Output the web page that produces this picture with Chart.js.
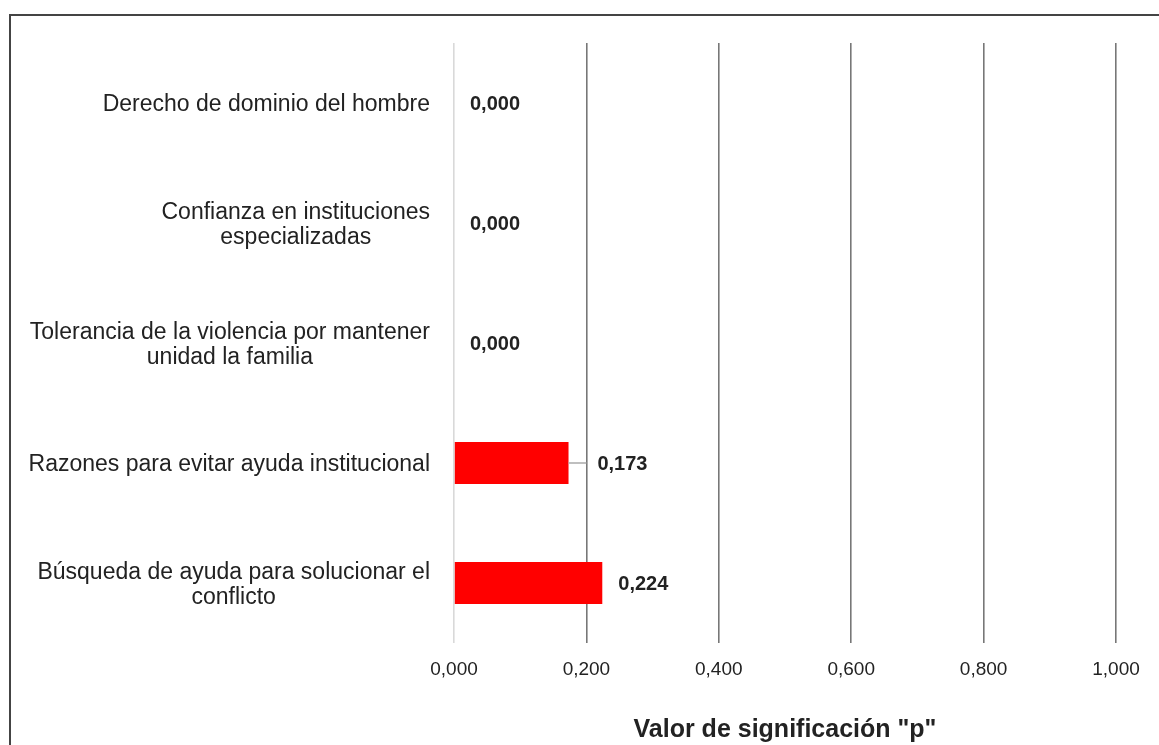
<!DOCTYPE html>
<html>
<head>
<meta charset="utf-8">
<script src="https://cdn.jsdelivr.net/npm/chart.js@4.4.1/dist/chart.umd.min.js"></script>
<style>
    html, body { margin: 0; padding: 0; background: #fff; }
    #wrap { position: relative; width: 1159px; height: 745px; }
    #frame {
        position: absolute; left: 9px; top: 14px; right: 0; bottom: 0;
        border-top: 2px solid #444; border-left: 2px solid #444;
        pointer-events: none;
    }
</style>
</head>
<body>
<div id="wrap">
    <canvas id="myChart" width="1159" height="745"></canvas>
    <div id="frame"></div>
</div>
<script>
// data
const categories = [
    ['Derecho de dominio del hombre'],
    ['Confianza en instituciones', 'especializadas'],
    ['Tolerancia de la violencia por mantener', 'unidad la familia'],
    ['Razones para evitar ayuda institucional'],
    ['Búsqueda de ayuda para solucionar el', 'conflicto']
];
const pValues = [0.000, 0.000, 0.000, 0.173, 0.224];
const xTicks = [0, 0.2, 0.4, 0.6, 0.8, 1.0];

const fmt = v => v.toFixed(3).replace('.', ',');
const FONT = "'Liberation Sans', Arial, sans-serif";

// category labels: block right aligned, each line centred inside the block
const categoryLabels = {
    id: 'categoryLabels',
    afterDraw(chart) {
        const ctx = chart.ctx;
        const yScale = chart.scales.y;
        const rightEdge = chart.chartArea.left - 24;
        const lineH = 25;
        ctx.save();
        ctx.font = '23px ' + FONT;
        ctx.fillStyle = '#222';
        ctx.textBaseline = 'middle';
        ctx.textAlign = 'center';
        categories.forEach((lines, i) => {
            const yc = yScale.getPixelForValue(i) + 2;
            const blockW = Math.max(...lines.map(l => ctx.measureText(l).width));
            const cx = rightEdge - blockW / 2;
            const y0 = yc - (lines.length - 1) * lineH / 2;
            lines.forEach((l, j) => ctx.fillText(l, cx, y0 + j * lineH));
        });
        ctx.restore();
    }
};

// value labels, moved past a grid line (with a leader line) when they would hit one
const valueLabels = {
    id: 'valueLabels',
    afterDatasetsDraw(chart) {
        const ctx = chart.ctx;
        const xScale = chart.scales.x;
        const meta = chart.getDatasetMeta(0);
        const grids = xTicks.filter(t => t > 0).map(t => xScale.getPixelForValue(t));
        ctx.save();
        ctx.font = 'bold 20px ' + FONT;
        ctx.textBaseline = 'middle';
        ctx.textAlign = 'left';
        meta.data.forEach((bar, i) => {
            const txt = fmt(pValues[i]);
            const w = ctx.measureText(txt).width;
            const end = bar.x;
            let x = end + 16;
            const hit = grids.find(g => g >= x - 4 && g <= x + w);
            if (hit !== undefined) {
                ctx.strokeStyle = '#aaa';
                ctx.lineWidth = 1.5;
                ctx.beginPath();
                ctx.moveTo(end, bar.y);
                ctx.lineTo(hit, bar.y);
                ctx.stroke();
                x = hit + 11;
            }
            ctx.fillStyle = '#222';
            ctx.fillText(txt, x, bar.y + 1);
        });
        ctx.restore();
    }
};

const ctx1 = document.getElementById('myChart').getContext('2d');
const myChart = new Chart(ctx1, {
    type: 'bar',
    data: {
        labels: categories,
        datasets: [{
            data: pValues,
            backgroundColor: '#ff0000',
            borderWidth: 0,
            categoryPercentage: 1,
            barPercentage: 0.35
        }]
    },
    options: {
        indexAxis: 'y',
        responsive: false,
        animation: false,
        layout: { padding: { top: 43, right: 43, left: 0, bottom: 0 } },
        plugins: {
            legend: { display: false },
            tooltip: { enabled: false }
        },
        scales: {
            x: {
                min: 0,
                max: 1,
                afterBuildTicks: s => { s.ticks = xTicks.map(v => ({ value: v })); },
                afterFit: s => { s.height = 102; },
                border: { display: false },
                grid: {
                    drawTicks: false,
                    color: ctx => ctx.tick && ctx.tick.value === 0 ? '#d9d9d9' : '#777',
                    lineWidth: 1.6
                },
                ticks: {
                    padding: 15,
                    color: '#222',
                    font: { family: FONT, size: 19 },
                    callback: v => fmt(v)
                },
                title: {
                    display: true,
                    text: 'Valor de significación "p"',
                    color: '#222',
                    font: { family: FONT, size: 25, weight: 'bold' },
                    padding: { top: 0, bottom: 0 }
                }
            },
            y: {
                afterFit: s => { s.width = 454; },
                border: { display: false },
                grid: { display: false, drawTicks: false },
                ticks: { display: false }
            }
        }
    },
    plugins: [categoryLabels, valueLabels]
});
</script>
</body>
</html>
